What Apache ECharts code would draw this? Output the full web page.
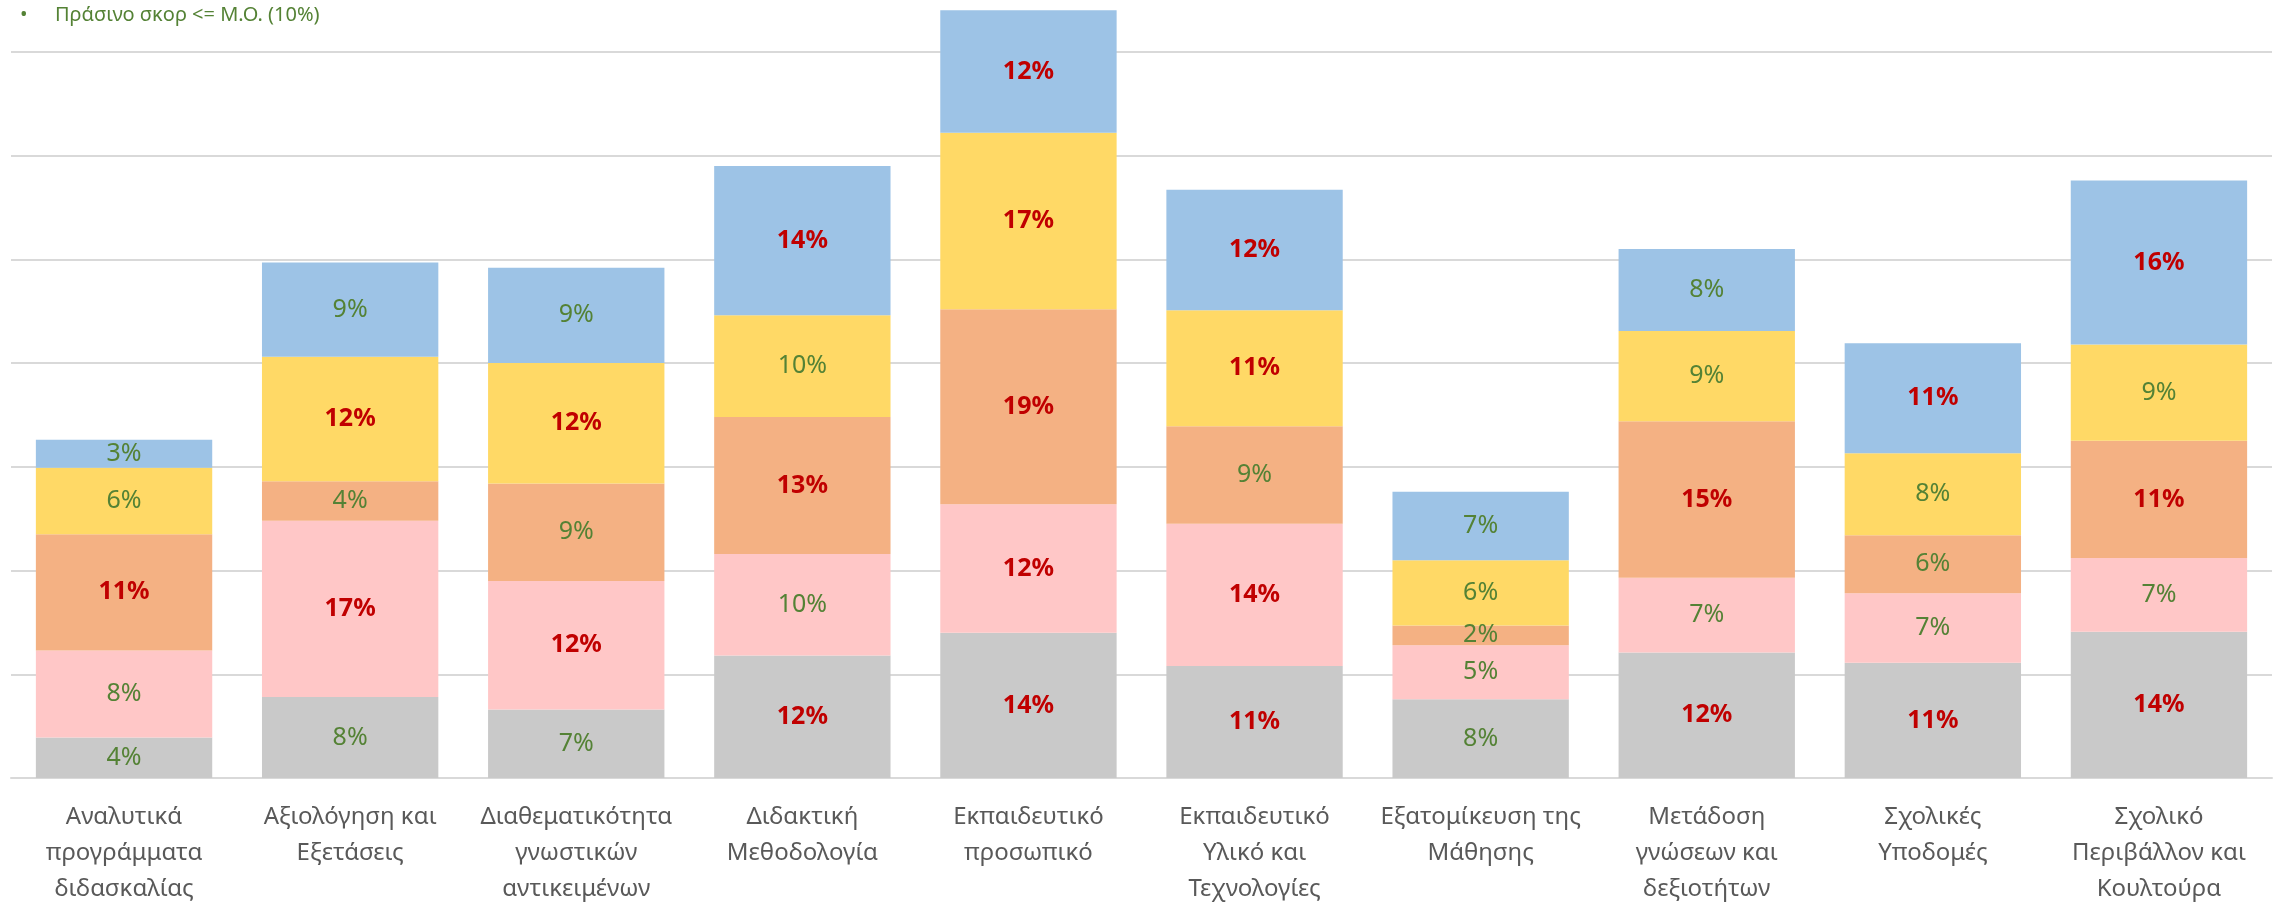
<!DOCTYPE html>
<html>
<head>
<meta charset="utf-8">
<title>chart</title>
<script src="https://cdn.jsdelivr.net/npm/echarts@6/dist/echarts.min.js"></script>
<style>
  html, body { margin: 0; padding: 0; background: #fff; }
  #main { width: 2280px; height: 909px; }
</style>
</head>
<body>
<div id="main"></div>
<script>
// categories (bottom to top stack: grey, pink, orange, yellow, blue)
var categories = [
    'Αναλυτικά\nπρογράμματα\nδιδασκαλίας',
    'Αξιολόγηση και\nΕξετάσεις',
    'Διαθεματικότητα\nγνωστικών\nαντικειμένων',
    'Διδακτική\nΜεθοδολογία',
    'Εκπαιδευτικό\nπροσωπικό',
    'Εκπαιδευτικό\nΥλικό και\nΤεχνολογίες',
    'Εξατομίκευση της\nΜάθησης',
    'Μετάδοση\nγνώσεων και\nδεξιοτήτων',
    'Σχολικές\nΥποδομές',
    'Σχολικό\nΠεριβάλλον και\nΚουλτούρα'
];
var greyVals   = [3.9, 7.8, 6.6, 11.8, 14.0, 10.8, 7.6, 12.1, 11.1, 14.1];
var pinkVals   = [8.4, 17.0, 12.4, 9.8, 12.4, 13.7, 5.2, 7.2, 6.7, 7.1];
var orangeVals = [11.2, 3.8, 9.4, 13.2, 18.8, 9.4, 1.9, 15.1, 5.6, 11.3];
var yellowVals = [6.4, 12.0, 11.6, 9.8, 17.0, 11.2, 6.3, 8.7, 7.9, 9.3];
var blueVals   = [2.7, 9.1, 9.2, 14.4, 11.8, 11.6, 6.6, 7.9, 10.6, 15.8];
var avgLimit = 10; // Μ.Ο.
var noteText = 'Πράσινο σκορ <= Μ.Ο. (10%)';

var chart = echarts.init(document.getElementById('main'));

/* πράσινο αν <= Μ.Ο., αλλιώς κόκκινο bold */
function labelFmt(p){
    var r = Math.round(p.value);
    return r > avgLimit ? '{hi|' + r + '%}' : '{lo|' + r + '%}';
}

function mkSeries(name, data, color){
    return {
        name: name,
        type: 'bar',
        stack: 'all',
        barCategoryGap: '22%',
        data: data,
        itemStyle: { color: color },
        label: {
            show: true,
            position: 'inside',
            formatter: labelFmt,
            rich: {
                hi: { color: '#C00000', fontWeight: 'bold', fontSize: 25, fontFamily: 'Noto Sans' },
                lo: { color: '#548235', fontSize: 25, fontFamily: 'Noto Sans' }
            }
        }
    };
}

var option = {
    animation: false,
    backgroundColor: '#fff',
    textStyle: { fontFamily: 'Noto Sans' },
    grid: { left: 11, right: 8, top: 0, bottom: 131, containLabel: false },
    xAxis: {
        type: 'category',
        data: categories,
        axisLine: { lineStyle: { color: '#D9D9D9', width: 2 } },
        axisTick: { show: false },
        axisLabel: {
            color: '#595959',
            fontSize: 24,
            lineHeight: 36,
            margin: 21,
            interval: 0,
            fontFamily: 'Noto Sans'
        }
    },
    yAxis: {
        type: 'value',
        min: 0,
        max: 75,
        interval: 10,
        axisLabel: { show: false },
        axisLine: { show: false },
        axisTick: { show: false },
        splitLine: { showMaxLine: false, lineStyle: { color: '#D9D9D9', width: 2 } }
    },
    graphic: [
        { type: 'text', left: 20, top: 5, style: { text: '•', fill: '#548235', fontSize: 20, fontFamily: 'Noto Sans' } },
        { type: 'text', left: 55, top: 5, style: { text: noteText, fill: '#548235', fontSize: 20, fontFamily: 'Noto Sans' } }
    ],
    series: [
        mkSeries('s1', greyVals, '#C9C9C9'),
        mkSeries('s2', pinkVals, '#FFC7C7'),
        mkSeries('s3', orangeVals, '#F4B183'),
        mkSeries('s4', yellowVals, '#FFD966'),
        mkSeries('s5', blueVals, '#9DC3E6')
    ]
};
chart.setOption(option);
</script>
</body>
</html>
